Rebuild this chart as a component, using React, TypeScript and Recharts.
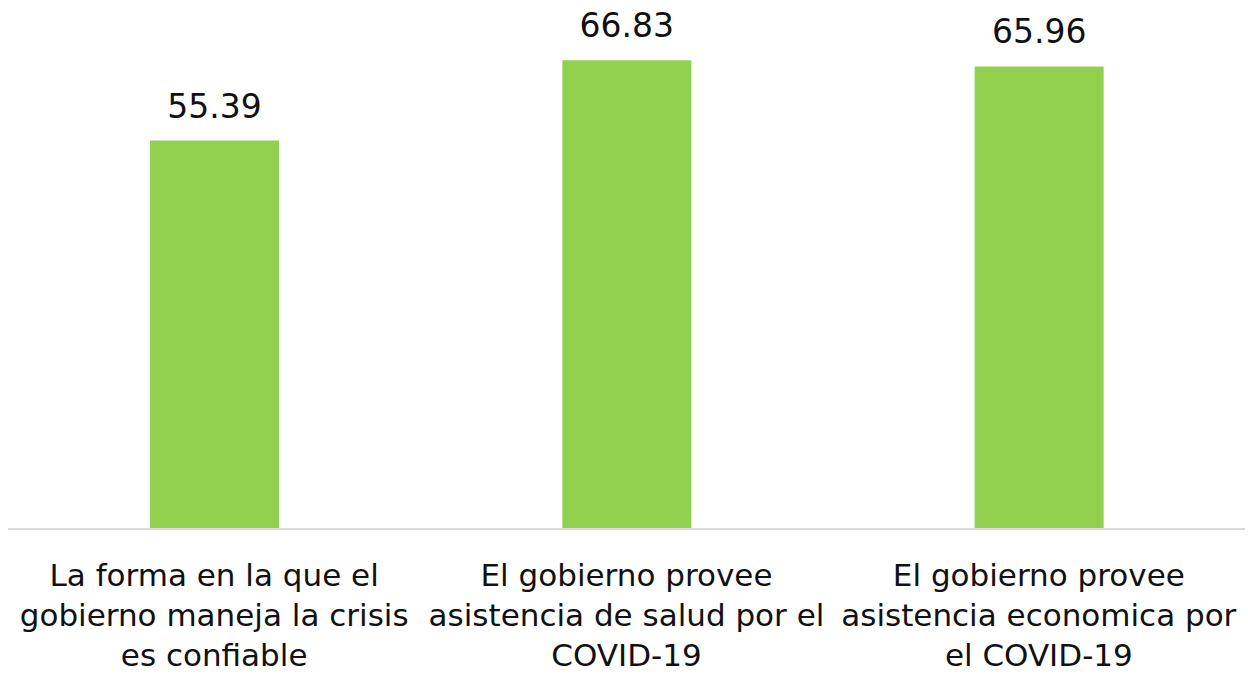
import { BarChart, Bar, XAxis, YAxis, LabelList } from "recharts";

const categories = ["crisis", "salud", "economica"];
const categoryLines = [
  ["La forma en la que el", "gobierno maneja la crisis", "es confiable"],
  ["El gobierno provee", "asistencia de salud por el", "COVID-19"],
  ["El gobierno provee", "asistencia economica por", "el COVID-19"],
];
const values = [55.39, 66.83, 65.96];

const data = categories.map((c, i) => ({ key: c, value: values[i] }));

const FONT = "'DejaVu Sans', Verdana, sans-serif";

function CategoryTick(props: any) {
  const { x, y, index } = props;
  const lines = categoryLines[index] || [];
  return (
    <text
      x={x}
      y={y}
      textAnchor="middle"
      fill="#111"
      fontSize={31}
      fontFamily={FONT}
    >
      {lines.map((l, i) => (
        <tspan key={i} x={x} dy={i === 0 ? 49 : 40}>
          {l}
        </tspan>
      ))}
    </text>
  );
}

export default function App() {
  return (
    <div style={{ position: "absolute", left: 0, top: 0, background: "#fff" }}>
      <BarChart
        width={1248}
        height={675}
        data={data}
        margin={{ top: 3, right: 3, bottom: 0, left: 8 }}
        barCategoryGap="34%"
      >
        <XAxis
          dataKey="key"
          height={146}
          interval={0}
          tickLine={false}
          axisLine={{ stroke: "#d9d9d9", strokeWidth: 2 }}
          tick={<CategoryTick />}
        />
        <YAxis hide domain={[0, 75]} />
        <Bar dataKey="value" fill="#92d050" barSize={129} isAnimationActive={false}>
          <LabelList
            dataKey="value"
            position="top"
            offset={23}
            fill="#111"
            fontSize={33}
            fontFamily={FONT}
            formatter={(v: any) => Number(v).toFixed(2)}
          />
        </Bar>
      </BarChart>
    </div>
  );
}
